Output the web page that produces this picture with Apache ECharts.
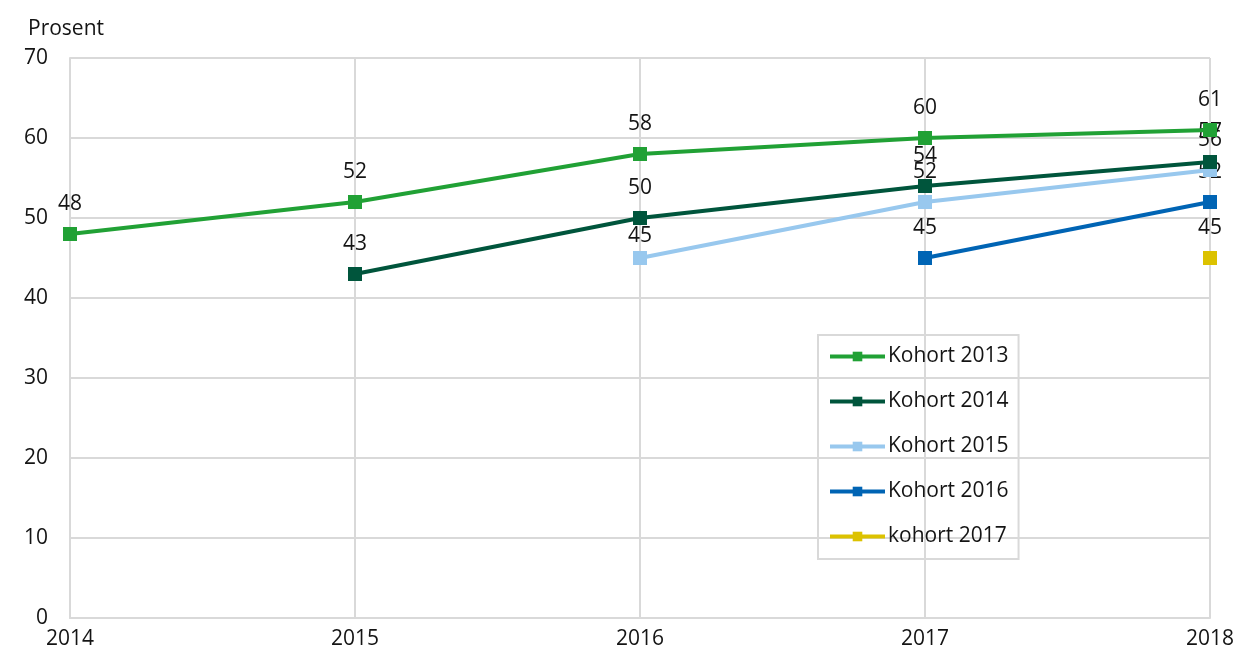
<!DOCTYPE html>
<html>
<head>
<meta charset="utf-8">
<script src="https://cdn.jsdelivr.net/npm/echarts@6/dist/echarts.min.js"></script>
<style>html,body{margin:0;padding:0;background:#fff}#c{width:1238px;height:650px}</style>
</head>
<body>
<div id="c"></div>
<script>
const years = ['2014', '2015', '2016', '2017', '2018'];
const kohort2013 = [48, 52, 58, 60, 61];
const kohort2014 = [null, 43, 50, 54, 57];
const kohort2015 = [null, null, 45, 52, 56];
const kohort2016 = [null, null, null, 45, 52];
const kohort2017 = [null, null, null, null, 45];
const seriesNames = ['Kohort 2013', 'Kohort 2014', 'Kohort 2015', 'Kohort 2016', 'kohort 2017'];
const colors = ['#21a135', '#00553c', '#98c8ee', '#0064b4', '#dcc200'];
const yTicks = [0, 10, 20, 30, 40, 50, 60, 70];

const FONT = '"Open Sans", "Noto Sans", sans-serif';
const FS = 21;
const TXT = '#141414';
const GRIDC = '#d9d9d9';

const allData = [kohort2013, kohort2014, kohort2015, kohort2016, kohort2017];

function mkSeries(name, arr, color, idx) {
  return {
    name: name,
    type: 'line',
    data: arr.map((v, i) => {
      const item = { value: v };
      if (idx === 2 && i === 2) item.label = { distance: 4 };
      return item;
    }),
    connectNulls: false,
    symbol: 'rect',
    symbolSize: 14,
    lineStyle: { width: 4, color: color },
    itemStyle: { color: color },
    label: {
      show: true, position: 'top', distance: 12,
      fontFamily: FONT, fontSize: FS, color: TXT
    },
    emphasis: { disabled: true },
    animation: false,
    z: 10 - idx
  };
}

const chart = echarts.init(document.getElementById('c'));
chart.setOption({
  animation: false,
  color: colors,
  grid: { left: 70, right: 28, top: 58, bottom: 32, containLabel: false },
  legend: {
    orient: 'vertical',
    left: 818, top: 335,
    padding: [11, 10, 12, 10],
    itemGap: 24,
    itemWidth: 55, itemHeight: 12,
    borderColor: GRIDC, borderWidth: 2,
    lineStyle: { width: 4 },
    textStyle: { fontFamily: FONT, fontSize: FS, color: TXT, padding: [0, 0, 0, -2] },
    data: seriesNames
  },
  xAxis: {
    type: 'category',
    data: years,
    boundaryGap: false,
    axisLine: { lineStyle: { color: GRIDC, width: 2 } },
    axisTick: { show: false },
    axisLabel: { fontFamily: FONT, fontSize: FS, color: TXT, margin: 11 },
    splitLine: { show: true, lineStyle: { color: GRIDC, width: 2 } }
  },
  yAxis: {
    type: 'value',
    min: yTicks[0], max: yTicks[yTicks.length - 1], interval: 10,
    name: 'Prosent',
    nameLocation: 'end',
    nameGap: 18,
    nameTextStyle: { fontFamily: FONT, fontSize: FS, color: TXT, align: 'center', padding: [0, 8, 0, 0] },
    axisLine: { show: true, lineStyle: { color: GRIDC, width: 2 } },
    axisTick: { show: false },
    axisLabel: { fontFamily: FONT, fontSize: FS, color: TXT, margin: 22 },
    splitLine: { show: true, lineStyle: { color: GRIDC, width: 2 } }
  },
  series: seriesNames.map((n, i) => mkSeries(n, allData[i], colors[i], i))
});
</script>
</body>
</html>
